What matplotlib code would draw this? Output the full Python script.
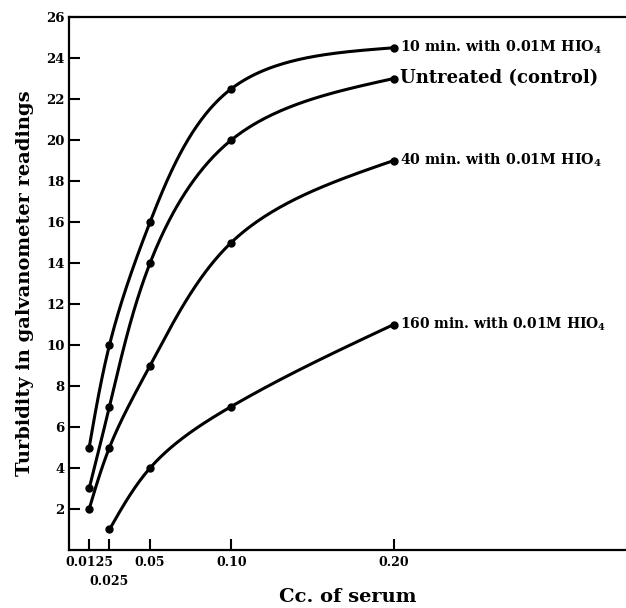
import numpy as np
import matplotlib

matplotlib.use("Agg")
import matplotlib.pyplot as plt

# cc. de suero y lecturas del galvanómetro
cc = [0.0125, 0.025, 0.05, 0.10, 0.20]
min10 = [5, 10, 16, 22.5, 24.5]
control = [3, 7, 14, 20, 23]
min40 = [2, 5, 9, 15, 19]
cc160 = [0.025, 0.05, 0.10, 0.20]
min160 = [1, 4, 7, 11]

etiquetas = ["10 min. with 0.01M HIO$_\\mathbf{4}$",
             "Untreated (control)",
             "40 min. with 0.01M HIO$_\\mathbf{4}$",
             "160 min. with 0.01M HIO$_\\mathbf{4}$"]
series = [(cc, min10), (cc, control), (cc, min40), (cc160, min160)]

xticks = [0.0125, 0.025, 0.05, 0.10, 0.20]
xticklabels = ["0.0125", "0.025", "0.05", "0.10", "0.20"]
yticks = list(range(2, 27, 2))

XMAX, YMAX = 0.343, 26
# tamaño de letra de cada rótulo (el original tiene dígitos estrechos)
tam_rotulo = [10.3, 13, 10.3, 10.0]


def curva(x, y, n=60):
    # trazo a mano alzada: spline cúbico natural paramétrico (longitud de cuerda,
    # en píxeles) que pasa por los puntos; solo para la línea
    esc = np.array([557 / XMAX, 533 / YMAX])
    P = np.column_stack([x, y]).astype(float) * esc
    h = np.linalg.norm(np.diff(P, axis=0), axis=1)
    t = np.r_[0, np.cumsum(h)]
    k = len(P)
    A = np.zeros((k, k))
    B = np.zeros((k, 2))
    A[0, 0] = A[-1, -1] = 1
    for i in range(1, k - 1):
        A[i, i - 1] = h[i - 1]
        A[i, i] = 2 * (h[i - 1] + h[i])
        A[i, i + 1] = h[i]
        B[i] = 6 * ((P[i + 1] - P[i]) / h[i] - (P[i] - P[i - 1]) / h[i - 1])
    M = np.linalg.solve(A, B)
    out = []
    for i in range(k - 1):
        s = np.linspace(t[i], t[i + 1], n)[:, None]
        a = (t[i + 1] - s) / h[i]
        b = (s - t[i]) / h[i]
        out.append(a * P[i] + b * P[i + 1]
                   + ((a**3 - a) * M[i] + (b**3 - b) * M[i + 1]) * h[i] ** 2 / 6)
    C = np.vstack(out) / esc
    return C[:, 0], C[:, 1]


plt.rcParams["font.family"] = ["DejaVu Serif"]
plt.rcParams["font.weight"] = "bold"
plt.rcParams["mathtext.fontset"] = "dejavuserif"

fig = plt.figure(figsize=(6.26, 6.08), dpi=100)
ax = fig.add_axes([0.110, 0.0954, 0.890, 0.8766])

for (xv, yv), lab, fs in zip(series, etiquetas, tam_rotulo):
    xs, ys = curva(xv, yv)
    ax.plot(xs, ys, color="black", lw=2.2, solid_capstyle="round")
    ax.plot(xv, yv, "o", color="black", ms=5)
    ax.text(xv[-1] + 0.004, yv[-1], lab, fontsize=fs, fontweight="bold",
            va="center", ha="left")

ax.set_xlim(0, XMAX)
ax.set_ylim(0, YMAX)
ax.set_xticks(xticks, xticklabels, fontsize=9, fontweight="bold")
ax.set_yticks(yticks, [str(v) for v in yticks], fontsize=9.5, fontweight="bold")
ax.tick_params(direction="in", length=8, width=1.5, colors="black")
ax.tick_params(axis="y", pad=3)
ax.tick_params(axis="x", pad=4)
ax.xaxis.get_major_ticks()[1].set_pad(18)
for s in ["left", "bottom", "top"]:
    ax.spines[s].set_linewidth(1.6)
ax.spines["right"].set_visible(False)

ax.set_ylabel("Turbidity in galvanometer readings", fontsize=14, fontweight="bold",
              labelpad=9)
ax.set_xlabel("Cc. of serum", fontsize=14, fontweight="bold", labelpad=0)

fig.savefig("out.png", dpi=100)
